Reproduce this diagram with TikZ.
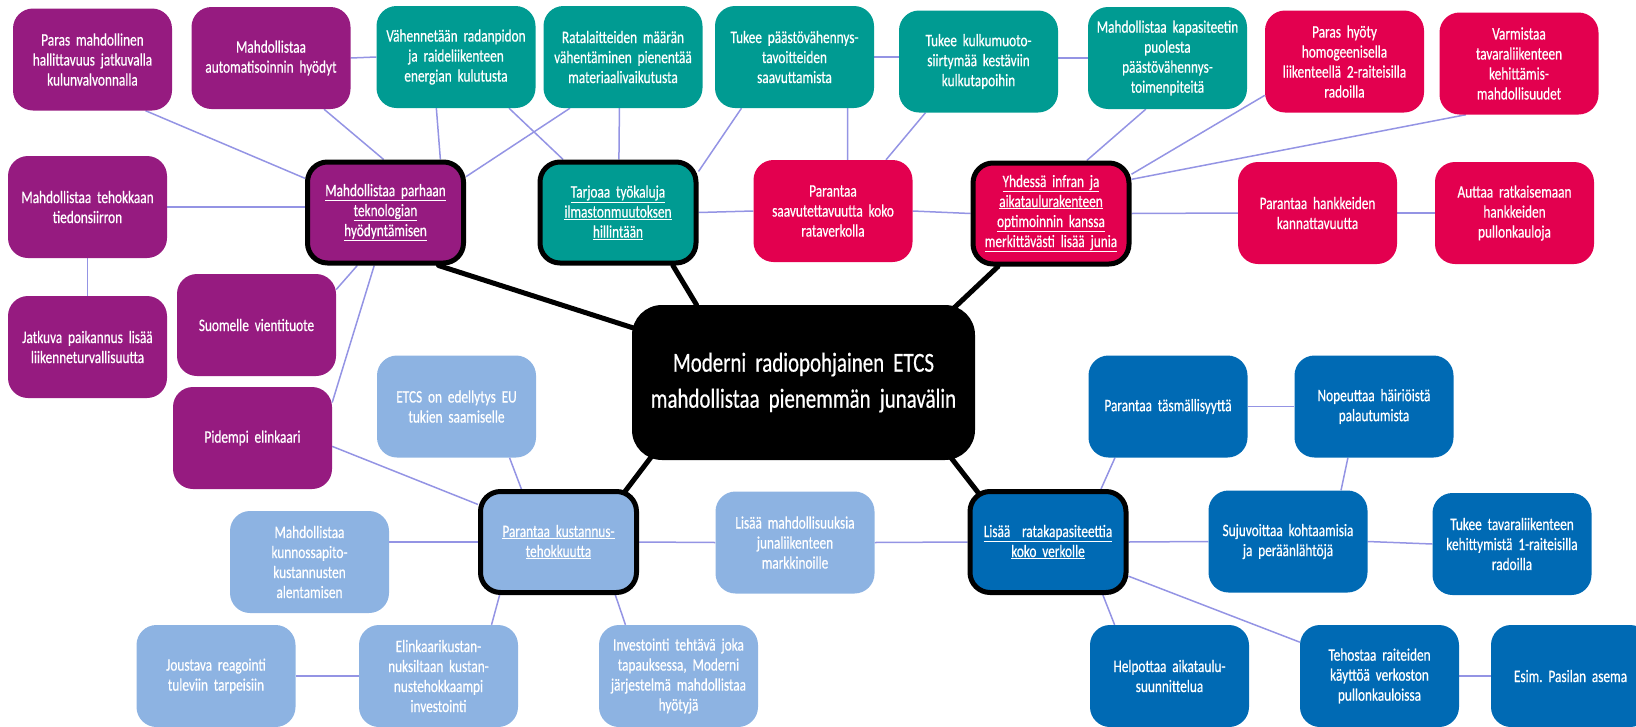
\documentclass[tikz,border=0pt]{standalone}
\usepackage{fontspec}
\setmainfont[FakeStretch=0.76, WordSpace=0.55, FakeBold=0.5]{Carlito}
\frenchspacing
\usetikzlibrary{backgrounds}
\usetikzlibrary{calc}
\definecolor{etcspurple}{HTML}{961B80}
\definecolor{etcsteal}{HTML}{009B92}
\definecolor{etcsred}{HTML}{E3004F}
\definecolor{etcslight}{HTML}{8DB3E2}
\definecolor{etcsblue}{HTML}{006AB4}
\definecolor{etcslink}{HTML}{9494E4}
\tikzset{mapbox/.style = {rounded corners=20pt, minimum width=159pt, minimum height=102pt,
                          text width=150pt, align=center, text=white, inner sep=2pt,
                          font=\fontsize{17.5}{20}\selectfont},
         purplebox/.style = {mapbox, fill=etcspurple},
         tealbox/.style = {mapbox, fill=etcsteal},
         redbox/.style = {mapbox, fill=etcsred},
         lightbox/.style = {mapbox, fill=etcslight},
         bluebox/.style = {mapbox, fill=etcsblue},
         hub/.style = {draw=black, line width=5pt, minimum width=156pt, minimum height=101pt},
         link/.style = {etcslink, line width=1.5pt},
         trunk/.style = {black, line width=5pt, line cap=round}}

\begin{document}
\begin{tikzpicture}[x=1pt, y=-1pt]
    \useasboundingbox (0,0) rectangle (1636,726);
    \node[purplebox] (p1) at (92.5,59.5) {Paras mahdollinen\\ hallittavuus jatkuvalla\\ kulunvalvonnalla};
    \node[purplebox] (p2) at (271,58) {Mahdollistaa\\ automatisoinnin hyödyt};
    \node[tealbox] (t1) at (456,57) {Vähennetään radanpidon\\ ja raideliikenteen\\ energian kulutusta};
    \node[tealbox] (t2) at (623,57) {Ratalaitteiden määrän\\ vähentäminen pienentää\\ materiaalivaikutusta};
    \node[tealbox] (t3) at (794.5,57) {Tukee päästövähennys-\\ tavoitteiden\\ saavuttamista};
    \node[tealbox] (t4) at (978.5,61.5) {Tukee kulkumuoto-\\ siirtymää kestäviin\\ kulkutapoihin};
    \node[tealbox] (t5) at (1167.5,58) {Mahdollistaa kapasiteetin\\ puolesta\\ päästövähennys-\\ toimenpiteitä};
    \node[redbox] (r2) at (1344.5,61.5) {Paras hyöty\\ homogeenisella\\ liikenteellä 2-raiteisilla\\ radoilla};
    \node[redbox] (r3) at (1519,63.5) {Varmistaa\\ tavaraliikenteen\\ kehittämis-\\ mahdollisuudet};

    \node[purplebox] (p3) at (87.5,207) {Mahdollistaa tehokkaan\\ tiedonsiirron};
    \node[purplebox, hub] (ph) at (385.5,212.5) {\underline{Mahdollistaa parhaan}\\ \underline{teknologian}\\ \underline{hyödyntämisen}};
    \node[tealbox, hub] (th) at (618,212.5) {\underline{Tarjoaa työkaluja}\\ \underline{ilmastonmuutoksen}\\ \underline{hillintään}};
    \node[redbox] (r1) at (833,211) {Parantaa\\ saavutettavuutta koko\\ rataverkolla};
    \node[redbox, hub] (rh) at (1051,213.5) {\underline{Yhdessä infran ja}\\ \underline{aikataulurakenteen}\\ \underline{optimoinnin kanssa}\\ \underline{merkittävästi lisää junia}};
    \node[redbox] (r4) at (1317.5,213) {Parantaa hankkeiden\\ kannattavuutta};
    \node[redbox] (r5) at (1514.5,213) {Auttaa ratkaisemaan\\ hankkeiden\\ pullonkauloja};

    \node[purplebox] (p4) at (87.5,347) {Jatkuva paikannus lisää\\ liikenneturvallisuutta};
    \node[purplebox] (p5) at (256.5,325) {Suomelle vientituote};
    \node[purplebox] (p6) at (252.5,438) {Pidempi elinkaari};
    \node[lightbox] (l1) at (456.5,406.5) {ETCS on edellytys EU\\ tukien saamiselle};
    \node[mapbox, fill=black, minimum width=343pt, minimum height=155pt, text width=330pt,
          rounded corners=30pt, font=\fontsize{27.5}{36}\selectfont] (c) at (803.5,382.5)
          {Moderni radiopohjainen ETCS\\ mahdollistaa pienemmän junavälin};
    \node[bluebox] (b1) at (1168,406.5) {Parantaa täsmällisyyttä};
    \node[bluebox] (b2) at (1374,406.5) {Nopeuttaa häiriöistä\\ palautumista};

    \node[lightbox] (l3) at (309.5,562) {Mahdollistaa\\ kunnossapito-\\ kustannusten\\ alentamisen};
    \node[lightbox, hub] (lh) at (558.5,542) {\underline{Parantaa kustannus-}\\ \underline{tehokkuutta}};
    \node[lightbox] (l2) at (795,542.5) {Lisää mahdollisuuksia\\ junaliikenteen\\ markkinoille};
    \node[bluebox, hub] (bh) at (1048,542) {\underline{Lisää\ \ ratakapasiteettia}\\ \underline{koko verkolle}};
    \node[bluebox] (b3) at (1288,541.5) {Sujuvoittaa kohtaamisia\\ ja peräänlähtöjä};
    \node[bluebox] (b4) at (1512,544) {Tukee tavaraliikenteen\\ kehittymistä 1-raiteisilla\\ radoilla};

    \node[lightbox] (l4) at (216,676) {Joustava reagointi\\ tuleviin tarpeisiin};
    \node[lightbox] (l5) at (438.5,676) {Elinkaarikustan-\\ nuksiltaan kustan-\\ nustehokkaampi\\ investointi};
    \node[lightbox] (l6) at (678.5,676) {Investointi tehtävä joka\\ tapauksessa, Moderni\\ järjestelmä mahdollistaa\\ hyötyjä};
    \node[bluebox] (b5) at (1169.5,676) {Helpottaa aikataulu-\\ suunnittelua};
    \node[bluebox] (b6) at (1379.5,676) {Tehostaa raiteiden\\ käyttöä verkoston\\ pullonkauloissa};
    \node[bluebox] (b7) at (1570.5,676) {Esim. Pasilan asema};

    \begin{scope}[on background layer]
      \draw[link] (p1.-44) -- (ph.157);
      \draw[link] (p2.-44) -- (ph.92);
      \draw[link] (p2.east) -- (t1.west);
      \draw[link] (t1.-111) -- (ph.44);
      \draw[link] (t1.-44) -- (th.136);
      \draw[link] (t2.-136) -- (ph.24);
      \draw[link] (t2.-94) -- (th.89);
      \draw[link] (t3.-136) -- (th.27);
      \draw[link] (t3.-44) -- (r1.74);
      \draw[link] (t3.east) -- (t4.west |- t3.east);
      \draw[link] (t4.-136) -- (r1.44);
      \draw[link] (t4.east |- t5.west) -- (t5.west);
      \draw[link] (t5.-113) -- (rh.56);
      \draw[link] (r2.-157) -- (rh.26);
      \draw[link] (r3.-136) -- (rh.23);
      \draw[link] (p3.east) -- (ph.west |- p3.east);
      \draw[link] (p3.south) -- (p4.north);
      \draw[link] (p5.24) -- (ph.-118);
      \draw[link] (p6.24) -- (ph.-102);
      \draw[link] (p6.-6) -- (lh.155);
      \draw[link] (th.east) -- (r1.west);
      \draw[link] (r1.east) -- (rh.west);
      \draw[link] (rh.east) -- (r4.west);
      \draw[link] (r4.east) -- (r5.west);
      \draw[link] (l1.-44) -- (lh.125);
      \draw[link] (l3.east |- lh.west) -- (lh.west);
      \draw[link] (lh.east) -- (l2.west);
      \draw[link] (l2.east) -- (bh.west);
      \draw[link] (lh.-138) -- (l5.44);
      \draw[link] (lh.-43) -- (l6.136);
      \draw[link] (l4.east) -- (l5.west);
      \draw[link] (bh.45) -- (b1.-136);
      \draw[link] (b1.east) -- (b2.west);
      \draw[link] (b2.-117) -- (b3.44);
      \draw[link] (bh.east) -- (b3.west);
      \draw[link] (b3.east) -- (b4.west);
      \draw[link] (bh.-44) -- (b5.137);
      \draw[link] (bh.-23) -- (b6.157);
      \draw[link] (b6.east) -- (b7.west);

      \draw[trunk] (c.center) -- (ph.-45);
      \draw[trunk] (th.-44) -- (c.144);
      \draw[trunk] ($(c.center)!0.8!(c.north east)$) -- (rh.-135);
      \draw[trunk] ($(c.center)!0.8!(c.south east)$) -- ($(bh.center)!0.8!(bh.north west)$);
      \draw[trunk] ($(c.center)!0.85!(c.south west)$) -- ($(lh.center)!0.7!(lh.north east)$);
    \end{scope}
  \end{tikzpicture}
\end{document}
